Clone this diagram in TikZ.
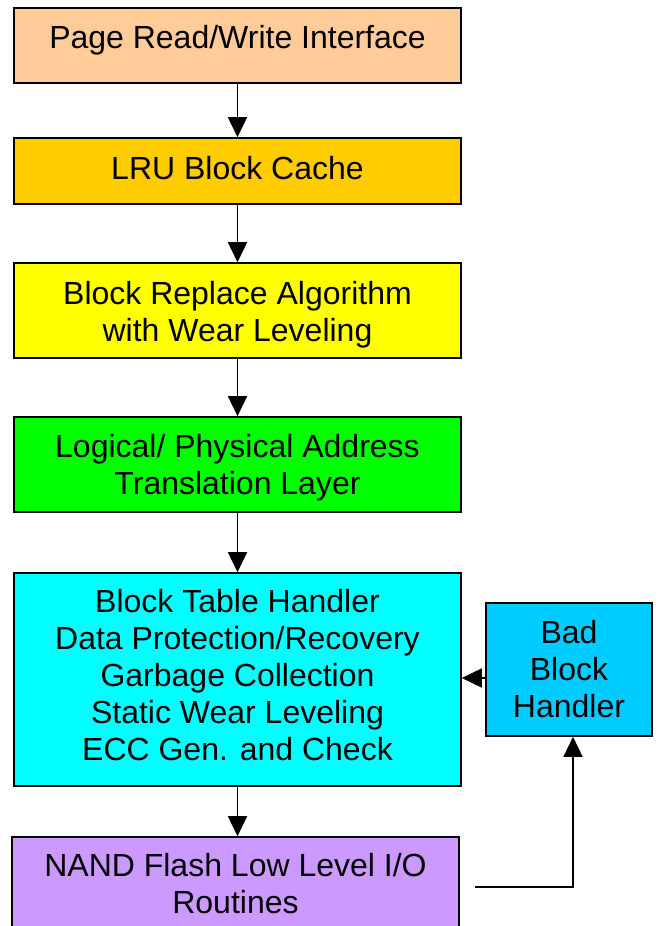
\documentclass[tikz,border=0pt]{standalone}
\usepackage{fontspec}
\setmainfont{Liberation Sans}
\usetikzlibrary{arrows.meta}
\definecolor{peach}{HTML}{FFCC99}
\definecolor{amber}{HTML}{FFCC00}
\definecolor{lemon}{HTML}{FFFF00}
\definecolor{lime}{HTML}{00FF00}
\definecolor{aqua}{HTML}{00FFFF}
\definecolor{sky}{HTML}{00CCFF}
\definecolor{lilac}{HTML}{CC99FF}
\begin{document}
\begin{tikzpicture}[x=1pt,y=-1pt,
  box/.style={draw=black, line width=1.6pt, inner sep=0pt, minimum width=447pt},
  lbl/.style={font=\fontsize{32}{37}\selectfont, align=center, inner sep=0pt, anchor=base},
  conn/.style={line width=1.6pt, -{Triangle[length=20pt,width=19pt]}}]
\useasboundingbox (0,0) rectangle (657,926);
\clip (0,0) rectangle (657,926);
\fill[white] (0,0) rectangle (657,926);

% layer boxes
\node[box, fill=peach, minimum height=75pt] (b1) at (237.5,45.5) {};
\node[box, fill=amber, minimum height=66pt] (b2) at (237.5,171) {};
\node[box, fill=lemon, minimum height=95pt] (b3) at (237.5,310.5) {};
\node[box, fill=lime,  minimum height=95pt] (b4) at (237.5,464.5) {};
\node[box, fill=aqua,  minimum height=213pt] (b5) at (237.5,679.5) {};
\node[box, fill=sky, minimum width=166pt, minimum height=133pt] (bad) at (569,669.5) {};
\node[box, fill=lilac, minimum height=100pt] (b6) at (235.5,887) {};

% labels
\node[lbl] (t1) at (237.5,48) {Page Read/Write Interface};
\node[lbl] (t2) at (237.5,179) {LRU Block Cache};
\node[lbl] (t3) at (237.5,341) {Block Replace Algorithm\\with Wear Leveling};
\node[lbl] (t4) at (237.5,494) {Logical/ Physical Address\\Translation Layer};
\node[lbl] (t5) at (237.5,760) {Block Table Handler\\Data Protection/Recovery\\Garbage Collection\\Static Wear Leveling\\ECC Gen. and Check};
\node[lbl] (tb) at (569,717) {Bad\\Block\\Handler};
\node[lbl] (t6) at (235.5,913) {NAND Flash Low Level I/O\\Routines};

% connectors
\draw[conn] (b1.south) -- (b2.north);
\draw[conn] (b2.south) -- (b3.north);
\draw[conn] (b3.south) -- (b4.north);
\draw[conn] (b4.south) -- (b5.north);
\draw[conn] (b5.south) -- (b5.south |- b6.north);
\draw[conn] ([yshift=-8.5pt]bad.west) -- ([yshift=-8.5pt]bad.west -| b5.east);
\coordinate (io) at ([xshift=15pt]b6.east);
\draw[conn] (io) -| ([xshift=4pt]bad.south);
\end{tikzpicture}
\end{document}
